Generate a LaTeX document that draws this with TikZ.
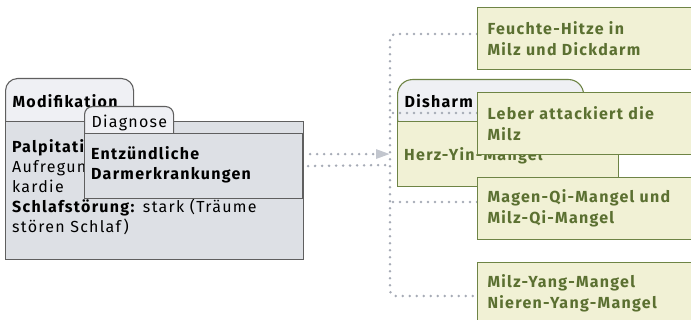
\documentclass[tikz,border=0pt]{standalone}
\usepackage{fontspec}
\setmainfont{Fira Sans}[LetterSpace=8.0]
\usetikzlibrary{arrows.meta}
\definecolor{kartegrau}{HTML}{DDE0E5}
\definecolor{reitergrau}{HTML}{EFF0F4}
\definecolor{randgrau}{HTML}{5F5F5F}
\definecolor{boxgruen}{HTML}{F1F1D5}
\definecolor{randgruen}{HTML}{6E8445}
\definecolor{textgruen}{HTML}{5B7031}
\definecolor{punktgrau}{HTML}{A6ABB6}
\definecolor{spitzegrau}{HTML}{C2C6CE}
\tikzstyle{link} = [
  punktgrau,
  line width=2.8pt,
  line cap=round,
  dash pattern=on 0pt off 7pt,
  rounded corners=5pt
]
\tikzstyle{arrow} = [
  link,
  -{Triangle[length=14pt, width=9pt, color=spitzegrau]}
]
\tikzstyle{reiter} = [
  rectangle,
  anchor=north west,
  inner xsep=7pt,
  inner ysep=0pt,
  align=left,
  draw=randgrau,
  fill=reitergrau,
  line width=1.1pt
]
\tikzstyle{karte} = [
  rectangle,
  anchor=north west,
  inner sep=0pt,
  draw=randgrau,
  fill=kartegrau,
  line width=1.1pt
]
\tikzstyle{befund} = [
  rectangle,
  anchor=north west,
  minimum width=240pt,
  minimum height=62pt,
  text width=220pt,
  inner xsep=10pt,
  align=left,
  draw=randgruen,
  fill=boxgruen,
  line width=1.1pt,
  text=textgruen,
  font=\fontsize{16}{21}\selectfont\bfseries
]

\begin{document}
\begin{tikzpicture}[x=1pt, y=-1pt, font=\fontsize{16}{20}\selectfont]
    \useasboundingbox (0,0) rectangle (691,320);
    \clip (0,0) rectangle (691,320);

    %% Karte Modifikation
    \node[reiter, rounded corners=12pt, text width=114pt, text height=29pt, text depth=26pt] (modreiter) at (5,78) {\textbf{Modifikation}};
    \node[karte, minimum width=298pt, minimum height=138pt] (modkarte) at (5,121) {};
    \node[anchor=base west, inner sep=0pt, align=left] (modtext) at (12,233) {\textbf{Palpitati}\\Aufregun\\kardie\\\textbf{Schlafstörung:} stark (Träume\\stören Schlaf)};

    %% Karte Diagnose
    \node[reiter, rounded corners=8pt, text width=75pt, text height=21pt, text depth=18pt] (diagreiter) at (84,106) {Diagnose};
    \node[karte, minimum width=218pt, minimum height=65pt] (diagkarte) at (84,133) {};
    \node[anchor=base west, inner sep=0pt, align=left, font=\fontsize{16}{20}\selectfont\bfseries] (diagtext) at (91,180) {Entzündliche\\Darmerkrankungen};

    %% Karte Disharmonie
    \node[reiter, draw=randgruen, rounded corners=15pt, text width=172pt, text height=28pt, text depth=26pt] (disreiter) at (397,79) {\textbf{Disharm}};
    \node[karte, draw=randgruen, fill=boxgruen, minimum width=221pt, minimum height=65pt] (diskarte) at (397,121) {};
    \node[anchor=base west, inner sep=0pt, text=textgruen, font=\fontsize{16}{20}\selectfont\bfseries] (distext) at (404,161) {Herz-Yin-Mangel};

    %% Verbindungen
    \coordinate (bus) at (390,165);
    \coordinate (feuchtepin) at (477,34);
    \coordinate (leberpin) at (477,113);
    \coordinate (magenpin) at (477,202);
    \coordinate (yangpin) at (477,296);
    \coordinate (diagpin) at ([xshift=7pt, yshift=12pt]diagkarte.east);

    \draw[link] (feuchtepin) -| (bus) |- (yangpin);
    \draw[link] ([xshift=5pt]diagkarte.east) -- (bus);
    \draw[arrow] (diagpin) -- (diagpin -| bus);
    \draw[link] (leberpin) -- (leberpin -| bus);
    \draw[link] (magenpin) -- (magenpin -| bus);

    %% Befunde
    \node[befund] (feuchte) at (477,7) {Feuchte-Hitze in\\Milz und Dickdarm};
    \node[befund] (leber) at (477,92) {Leber attackiert die\\Milz};
    \node[befund] (magen) at (477,177) {Magen-Qi-Mangel und\\Milz-Qi-Mangel};
    \node[befund] (yang) at (477,262) {Milz-Yang-Mangel\\Nieren-Yang-Mangel};
  \end{tikzpicture}
\end{document}
